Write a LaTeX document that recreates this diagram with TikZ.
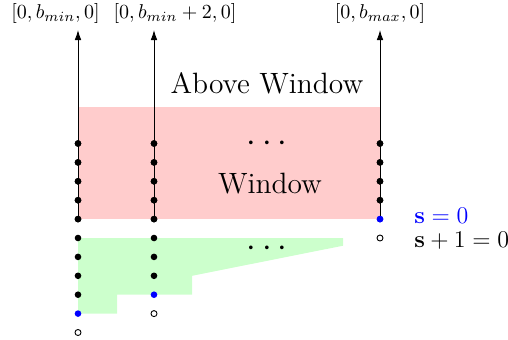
\documentclass[tikz,border=0pt]{standalone}
\usetikzlibrary{arrows.meta}
\definecolor{pinkfill}{RGB}{255,204,204}
\definecolor{greenfill}{RGB}{204,255,204}
\begin{document}
\begin{tikzpicture}[x=0.5pt,y=-0.5pt,
  dotb/.style={circle,fill=black,inner sep=0pt,minimum size=3.3pt},
  dotblue/.style={circle,fill=blue,inner sep=0pt,minimum size=3.3pt},
  dotopen/.style={circle,draw=black,fill=white,line width=0.45pt,inner sep=0pt,minimum size=3pt},
  colarrow/.style={line width=0.45pt,-{Latex[length=5pt,width=3.3pt]}},
  toplabel/.style={inner sep=0pt,font=\normalsize},
  bigtext/.style={inner sep=0pt,anchor=base,font=\Large}]
\useasboundingbox (0,0) rectangle (508,339);
% regions
\fill[pinkfill] (78,106.7) rectangle (380,219);
\fill[greenfill] (78,238) -- (343,238) -- (343,245.7) -- (192,275.8) -- (192,294.7)
  -- (117,294.7) -- (117,313.6) -- (78,313.6) -- cycle;
% arrow tips and labels
\coordinate (t1) at (78,30);
\coordinate (t2) at (154,30);
\coordinate (t3) at (380,30);
\node[toplabel] (l1) at (55.5,13) {$[0,b_{min},0]$};
\node[toplabel] (l2) at (175,13) {$[0,b_{min}+2,0]$};
\node[toplabel] (l3) at (380,13) {$[0,b_{max},0]$};
% column 1
\foreach \k in {0,...,8} \node[dotb] (a\k) at (78,{143.5+18.9*\k}) {};
\node[dotblue] (a9) at (78,{143.5+18.9*9}) {};
\node[dotopen] (a10) at (78,{143.5+18.9*10}) {};
% column 2
\foreach \k in {0,...,7} \node[dotb] (b\k) at (154,{143.5+18.9*\k}) {};
\node[dotblue] (b8) at (154,{143.5+18.9*8}) {};
\node[dotopen] (b9) at (154,{143.5+18.9*9}) {};
% column 3
\foreach \k in {0,...,3} \node[dotb] (c\k) at (380,{143.5+18.9*\k}) {};
\node[dotblue] (c4) at (380,{143.5+18.9*4}) {};
\node[dotopen] (c5) at (380,{143.5+18.9*5}) {};
% arrows
\draw[colarrow] (a4.center) -- (t1);
\draw[colarrow] (b4.center) -- (t2);
\draw[colarrow] (c4.center) -- (t3);
% redraw dots on lines
\foreach \k in {0,...,4} \node[dotb] at (a\k) {};
\foreach \k in {0,...,4} \node[dotb] at (b\k) {};
\foreach \k in {0,...,3} \node[dotb] at (c\k) {};
\node[dotblue] at (c4) {};
% texts
\node[bigtext,font=\fontsize{14.7}{17}\selectfont] (above) at (267,93) {Above Window};
\node[bigtext,font=\fontsize{14.7}{17}\selectfont] (win) at (270,193.3) {Window};
\node[inner sep=0pt,font=\LARGE] (d1) at (267,144) {$\cdots$};
\node[inner sep=0pt,font=\LARGE] (d2) at (267,249) {$\cdots$};
\node[inner sep=0pt,anchor=base west,font=\large,text=blue] (s0) at (414,223) {$\mathbf{s}=0$};
\node[inner sep=0pt,anchor=base west,font=\large] (s1) at (414,247) {$\mathbf{s}+1=0$};
\end{tikzpicture}
\end{document}
